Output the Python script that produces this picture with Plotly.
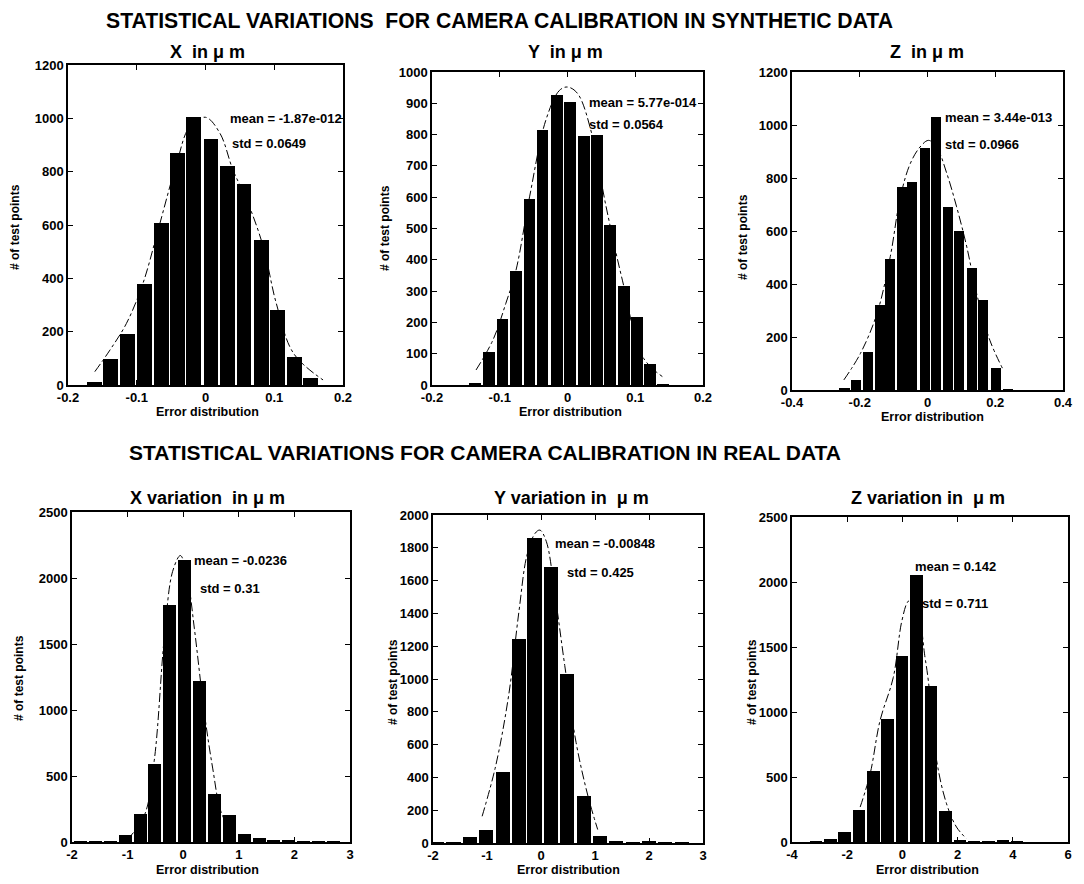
import plotly.graph_objects as go

# ---------------- data ----------------
# Synthetic data, X
x_syn_centers = [-0.162, -0.138, -0.114, -0.089, -0.064, -0.041, -0.017, 0.008, 0.032, 0.056, 0.082, 0.105, 0.129, 0.153]
x_syn_counts = [10, 97, 190, 377, 607, 870, 1005, 922, 820, 755, 545, 282, 106, 28]
x_syn_fit_x = [-0.161, -0.139, -0.115, -0.091, -0.069, -0.042, -0.023, 0.0, 0.021, 0.040, 0.060, 0.084, 0.103, 0.128, 0.171]
x_syn_fit_y = [50, 131, 231, 381, 581, 831, 969, 1004, 944, 806, 694, 519, 306, 119, 19]

# Synthetic data, Y
y_syn_centers = [-0.136, -0.116, -0.096, -0.076, -0.056, -0.037, -0.016, 0.004, 0.024, 0.043, 0.063, 0.083, 0.103, 0.122, 0.141]
y_syn_counts = [5, 104, 210, 363, 594, 815, 928, 905, 795, 800, 512, 316, 218, 66, 3]
y_syn_fit_x = [-0.135, -0.110, -0.091, -0.076, -0.056, -0.032, -0.012, 0.0, 0.015, 0.037, 0.056, 0.081, 0.111, 0.140]
y_syn_fit_y = [48, 144, 261, 367, 601, 846, 941, 952, 931, 793, 580, 335, 90, 27]

# Synthetic data, Z
z_syn_centers = [-0.245, -0.211, -0.176, -0.141, -0.110, -0.075, -0.045, -0.007, 0.026, 0.061, 0.094, 0.132, 0.164, 0.202, 0.237]
z_syn_counts = [5, 38, 144, 320, 496, 767, 786, 913, 1031, 692, 601, 460, 340, 83, 3]
z_syn_fit_x = [-0.247, -0.198, -0.149, -0.110, -0.080, -0.051, -0.022, 0.003, 0.027, 0.057, 0.086, 0.116, 0.145, 0.184, 0.224]
z_syn_fit_y = [38, 138, 289, 503, 729, 854, 917, 942, 917, 817, 691, 540, 364, 188, 75]

# Real data, X
x_real_centers = [-1.85, -1.58, -1.31, -1.04, -0.77, -0.51, -0.25, 0.02, 0.29, 0.56, 0.83, 1.10, 1.37, 1.63, 1.90, 2.17, 2.43, 2.70]
x_real_counts = [1, 2, 3, 50, 215, 588, 1793, 2134, 1217, 366, 202, 63, 30, 15, 8, 3, 2, 2]
x_real_fit_x = [-1.00, -0.70, -0.52, -0.34, -0.19, -0.05, 0.08, 0.20, 0.38, 0.53, 0.68, 0.92]
x_real_fit_y = [20, 200, 620, 1550, 2050, 2170, 1990, 1620, 980, 560, 230, 30]

# Real data, Y
y_real_centers = [-1.93, -1.62, -1.32, -1.02, -0.71, -0.41, -0.12, 0.18, 0.48, 0.79, 1.09, 1.39, 1.70, 2.00, 2.30, 2.61]
y_real_counts = [1, 2, 37, 82, 435, 1241, 1857, 1684, 1031, 286, 45, 8, 5, 8, 5, 4]
y_real_fit_x = [-1.09, -0.84, -0.60, -0.41, -0.26, -0.11, -0.02, 0.10, 0.26, 0.44, 0.65, 0.87, 1.05]
y_real_fit_y = [163, 469, 898, 1408, 1755, 1888, 1908, 1837, 1510, 1082, 612, 286, 82]

# Real data, Z
z_real_centers = [-3.13, -2.61, -2.10, -1.57, -1.05, -0.54, -0.02, 0.51, 1.04, 1.56, 2.08, 2.60, 3.12, 3.64, 4.16]
z_real_counts = [5, 22, 77, 243, 550, 946, 1432, 2054, 1202, 235, 12, 5, 4, 8, 3]
z_real_fit_x = [-1.53, -1.17, -0.81, -0.33, -0.02, 0.22, 0.45, 0.82, 0.94, 1.24, 1.60, 1.96, 2.32]
z_real_fit_y = [269, 524, 934, 1266, 1700, 1854, 1870, 1419, 1240, 627, 294, 115, 26]

# Panel texts
panel_titles = ["X  in \u03bc m", "Y  in \u03bc m", "Z  in \u03bc m",
                "X variation  in \u03bc m", "Y variation in  \u03bc m", "Z variation in  \u03bc m"]
mean_labels = ["mean = -1.87e-012", "mean = 5.77e-014", "mean = 3.44e-013",
               "mean = -0.0236", "mean = -0.00848", "mean = 0.142"]
std_labels = ["std = 0.0649", "std = 0.0564", "std = 0.0966",
              "std = 0.31", "std = 0.425", "std = 0.711"]
x_ticks = [[-0.2, -0.1, 0, 0.1, 0.2], [-0.2, -0.1, 0, 0.1, 0.2], [-0.4, -0.2, 0, 0.2, 0.4],
           [-2, -1, 0, 1, 2, 3], [-2, -1, 0, 1, 2, 3], [-4, -2, 0, 2, 4, 6]]
x_tick_text = [["-0.2", "-0.1", "0", "0.1", "0.2"], ["-0.2", "-0.1", "0", "0.1", "0.2"],
               ["-0.4", "-0.2", "0", "0.2", "0.4"], ["-2", "-1", "0", "1", "2", "3"],
               ["-2", "-1", "0", "1", "2", "3"], ["-4", "-2", "0", "2", "4", "6"]]
y_ticks = [[0, 200, 400, 600, 800, 1000, 1200],
           [0, 100, 200, 300, 400, 500, 600, 700, 800, 900, 1000],
           [0, 200, 400, 600, 800, 1000, 1200],
           [0, 500, 1000, 1500, 2000, 2500],
           [0, 200, 400, 600, 800, 1000, 1200, 1400, 1600, 1800, 2000],
           [0, 500, 1000, 1500, 2000, 2500]]
main_title_top = "STATISTICAL VARIATIONS  FOR CAMERA CALIBRATION IN SYNTHETIC DATA"
main_title_bottom = "STATISTICAL VARIATIONS FOR CAMERA CALIBRATION IN REAL DATA"
x_axis_title = "Error distribution"
y_axis_title = "# of test points"

# ---------------- layout geometry (page pixels) ----------------
OFF = 8                      # page body margin
W, H = 1084 - OFF, 884 - OFF  # figure size so that the page fills the window


def px(p):
    return (p - OFF) / W


def py(p):
    return 1 - (p - OFF) / H


boxes = [(68, 343, 65, 385), (432, 703, 72, 385), (792, 1063, 72, 390),
         (72, 350, 512, 842), (433, 703, 515, 843), (792, 1068, 517, 842)]
x_ranges = [[-0.2, 0.2], [-0.2, 0.2], [-0.4, 0.4], [-2, 3], [-2, 3], [-4, 6]]
y_ranges = [[0, 1200], [0, 1000], [0, 1200], [0, 2500], [0, 2000], [0, 2500]]
bar_widths = [0.0215, 0.0175, 0.030, 0.235, 0.265, 0.455]
mean_pos = [(0.033, 1001), (0.029, 901), (0.046, 1030), (0.158, 2136), (0.222, 1829), (0.384, 2123)]
std_pos = [(0.036, 904), (0.029, 831), (0.046, 928), (0.266, 1924), (0.444, 1652), (0.638, 1838)]
title_pos = [(207, 52), (565, 52), (927, 52), (207, 498), (571, 498), (928, 498)]
xlab_pos = [(207, 412), (570, 412), (932, 417), (207, 870), (568, 870), (927, 870)]
ylab_pos = [(15, 227), (385, 228), (743, 237), (19, 678), (393, 682), (752, 682)]

hist_sets = [
    (x_syn_centers, x_syn_counts, x_syn_fit_x, x_syn_fit_y),
    (y_syn_centers, y_syn_counts, y_syn_fit_x, y_syn_fit_y),
    (z_syn_centers, z_syn_counts, z_syn_fit_x, z_syn_fit_y),
    (x_real_centers, x_real_counts, x_real_fit_x, x_real_fit_y),
    (y_real_centers, y_real_counts, y_real_fit_x, y_real_fit_y),
    (z_real_centers, z_real_counts, z_real_fit_x, z_real_fit_y),
]

FONT = "Liberation Sans, Arial, sans-serif"

fig = go.Figure()
annotations = []
layout_axes = {}

for i, (cx, cy, fx, fy) in enumerate(hist_sets):
    n = "" if i == 0 else str(i + 1)
    xa, ya = "x" + n, "y" + n
    fig.add_trace(go.Bar(x=cx, y=cy, width=bar_widths[i], marker=dict(color="black", line=dict(width=0)),
                         xaxis=xa, yaxis=ya, showlegend=False))
    fig.add_trace(go.Scatter(x=fx, y=fy, mode="lines", line=dict(color="black", width=1, dash="dashdot", shape="spline"),
                             xaxis=xa, yaxis=ya, showlegend=False))
    l, r, t, b = boxes[i]
    common = dict(showline=True, linecolor="black", linewidth=1.5, mirror="allticks", ticks="inside",
                  ticklen=5, tickwidth=1, tickcolor="black", showgrid=False, zeroline=False, automargin=False,
                  tickfont=dict(family=FONT, size=13, color="black", weight="bold"))
    layout_axes["xaxis" + n] = dict(domain=[px(l), px(r)], range=x_ranges[i], anchor=ya,
                                    tickmode="array", tickvals=x_ticks[i], ticktext=x_tick_text[i], **common)
    layout_axes["yaxis" + n] = dict(domain=[py(b), py(t)], range=y_ranges[i], anchor=xa,
                                    tickmode="array", tickvals=y_ticks[i],
                                    ticktext=[str(v) for v in y_ticks[i]], **common)
    # stat texts
    annotations.append(dict(x=mean_pos[i][0], y=mean_pos[i][1], xref=xa, yref=ya, text=mean_labels[i],
                            showarrow=False, xanchor="left", yanchor="middle",
                            font=dict(family=FONT, size=13, color="black", weight="bold")))
    annotations.append(dict(x=std_pos[i][0], y=std_pos[i][1], xref=xa, yref=ya, text=std_labels[i],
                            showarrow=False, xanchor="left", yanchor="middle",
                            font=dict(family=FONT, size=13, color="black", weight="bold")))
    # panel title
    annotations.append(dict(x=px(title_pos[i][0]), y=py(title_pos[i][1]), xref="paper", yref="paper",
                            text=panel_titles[i], showarrow=False, xanchor="center", yanchor="middle",
                            font=dict(family=FONT, size=18, color="black", weight="bold")))
    annotations.append(dict(x=px(xlab_pos[i][0]), y=py(xlab_pos[i][1]), xref="paper", yref="paper",
                            text=x_axis_title, showarrow=False, xanchor="center", yanchor="middle",
                            font=dict(family=FONT, size=12.5, color="black", weight="bold")))
    annotations.append(dict(x=px(ylab_pos[i][0]), y=py(ylab_pos[i][1]), xref="paper", yref="paper",
                            text=y_axis_title, showarrow=False, xanchor="center", yanchor="middle", textangle=-90,
                            font=dict(family=FONT, size=12, color="black", weight="bold")))

annotations.append(dict(x=px(500), y=1.0, xref="paper", yref="paper", text=main_title_top,
                        showarrow=False, xanchor="center", yanchor="top", borderpad=0,
                        font=dict(family=FONT, size=21.2, color="black", weight="bold")))
annotations.append(dict(x=px(485), y=py(452), xref="paper", yref="paper", text=main_title_bottom,
                        showarrow=False, xanchor="center", yanchor="middle",
                        font=dict(family=FONT, size=21, color="black", weight="bold")))

fig.update_layout(width=W, height=H, margin=dict(l=0, r=0, t=0, b=0, autoexpand=False), paper_bgcolor="white",
                  plot_bgcolor="white", bargap=0, annotations=annotations, **layout_axes)

fig.write_html("out.html")
